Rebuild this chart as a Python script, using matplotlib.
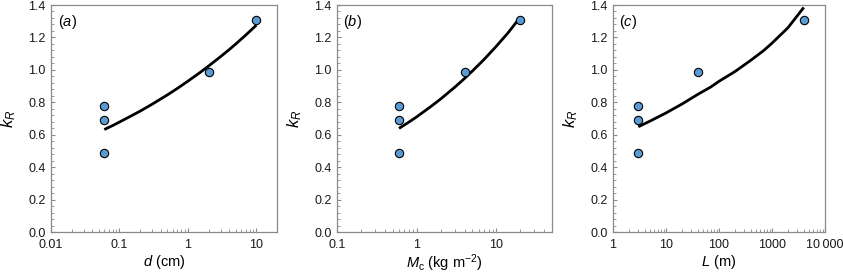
import matplotlib
matplotlib.use("Agg")
import matplotlib.pyplot as plt
from matplotlib.ticker import LogLocator, MultipleLocator, FixedLocator, FixedFormatter, NullFormatter

plt.rcParams['font.family'] = ['Liberation Sans', 'DejaVu Sans']
plt.rcParams['mathtext.fontset'] = 'custom'
plt.rcParams['mathtext.rm'] = 'Liberation Sans'
plt.rcParams['mathtext.it'] = 'Liberation Sans:italic'

# ---- data ----
kR_obs = [0.78, 0.69, 0.49, 0.99, 1.31]

d_obs = [0.06, 0.06, 0.06, 2.0, 10.0]
d_fit_x = [0.06, 0.08, 0.1, 0.15, 0.2, 0.3, 0.5, 0.7, 1.0, 1.5, 2.0, 3.0, 4.0, 5.0, 7.0, 10.0]
d_fit_y = [0.633, 0.658, 0.679, 0.718, 0.746, 0.789, 0.846, 0.886, 0.931, 0.984, 1.024, 1.082, 1.125, 1.16, 1.215, 1.276]

M_obs = [0.6, 0.6, 0.6, 4.0, 20.0]
M_fit_x = [0.6, 0.8, 1.0, 1.5, 2.0, 3.0, 4.0, 5.0, 7.0, 10.0, 14.0, 19.5]
M_fit_y = [0.64, 0.679, 0.711, 0.774, 0.821, 0.893, 0.948, 0.993, 1.064, 1.146, 1.228, 1.318]

L_obs = [3.0, 3.0, 3.0, 40.0, 4000.0]
L_fit_x = [3.0, 5.0, 10.0, 20.0, 40.0, 70.0, 100.0, 200.0, 400.0, 700.0, 1000.0, 2000.0, 3980.0]
L_fit_y = [0.65, 0.685, 0.735, 0.79, 0.85, 0.895, 0.93, 0.99, 1.06, 1.12, 1.165, 1.26, 1.385]

panels = [
    dict(lab='a', ox=d_obs, fx=d_fit_x, fy=d_fit_y, xlim=(0.01, 20),
         ticks=[0.01, 0.1, 1, 10], tlabels=['0.01', '0.1', '1', '10'],
         xlabel=r'$d$ (cm)'),
    dict(lab='b', ox=M_obs, fx=M_fit_x, fy=M_fit_y, xlim=(0.1, 50),
         ticks=[0.1, 1, 10], tlabels=['0.1', '1', '10'],
         xlabel=r'$M_{\mathrm{c}}$ (kg m$^{-2}$)'),
    dict(lab='c', ox=L_obs, fx=L_fit_x, fy=L_fit_y, xlim=(1, 10000),
         ticks=[1, 10, 100, 1000, 10000], tlabels=['1', '10', '100', '1000', '10\u2009000'],
         xlabel=r'$L$ (m)'),
]

positions = [
    [51/843, 1-232.3/275, 226/843, 227.3/275],
    [337/843, 1-232.3/275, 215/843, 227.3/275],
    [613/843, 1-232.3/275, 212/843, 227.3/275],
]

fig = plt.figure(figsize=(8.43, 2.75), dpi=100)
spine_col = '#8a8a8a'
for p, pos in zip(panels, positions):
    ax = fig.add_axes(pos)
    ax.set_xscale('log')
    ax.plot(p['fx'], p['fy'], color='black', lw=2.0, zorder=2,
            solid_capstyle='butt', solid_joinstyle='round')
    ax.scatter(p['ox'], kR_obs, s=36, facecolor='#5b9bd5', edgecolor='black',
               linewidths=0.8, zorder=3)
    ax.set_xlim(*p['xlim'])
    ax.set_ylim(0, 1.4)
    ax.xaxis.set_major_locator(FixedLocator(p['ticks']))
    ax.xaxis.set_major_formatter(FixedFormatter(p['tlabels']))
    ax.xaxis.set_minor_locator(LogLocator(base=10, subs=range(2, 10), numticks=20))
    ax.xaxis.set_minor_formatter(NullFormatter())
    ax.yaxis.set_major_locator(MultipleLocator(0.2))
    ax.yaxis.set_minor_locator(MultipleLocator(0.04))
    ax.yaxis.set_major_formatter(plt.FuncFormatter(lambda v, _: f'{v:.1f}'))
    for s in ax.spines.values():
        s.set_color(spine_col)
        s.set_linewidth(0.9)
    ax.tick_params(which='both', direction='in', color=spine_col, labelsize=9,
                   labelcolor='#1a1a1a', top=False, right=False)
    ax.tick_params(which='major', length=3, width=0.8)
    ax.tick_params(axis='x', which='major', pad=5)
    ax.tick_params(axis='y', which='major', pad=4)
    ax.tick_params(which='minor', length=2, width=0.6)
    ax.set_xlabel(p['xlabel'], fontsize=10.5, labelpad=1)
    ax.set_ylabel(r'$k_R$', fontsize=12, labelpad=7)
    ax.text(0.03, 0.965, '(' + r'$' + p['lab'] + r'$' + ')', transform=ax.transAxes,
            fontsize=10.5, va='top', ha='left')

fig.savefig('out.png', dpi=100)
